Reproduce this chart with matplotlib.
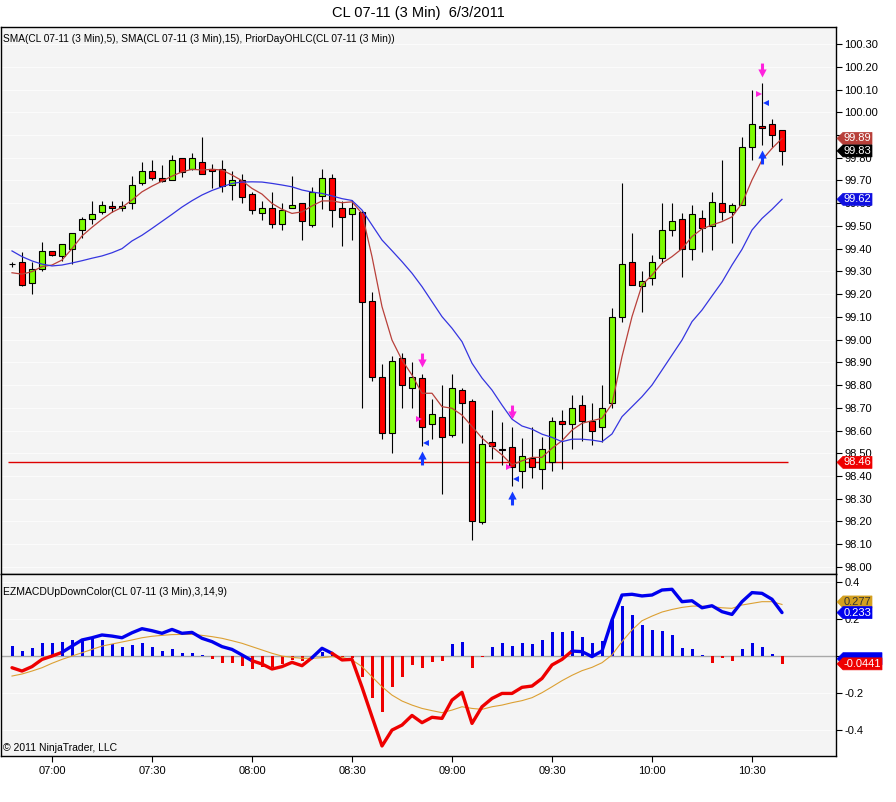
import numpy as np
import pandas as pd
import matplotlib
matplotlib.use("Agg")
import matplotlib.pyplot as plt
from matplotlib.path import Path
from matplotlib.patches import Polygon
from matplotlib.transforms import Affine2D, ScaledTranslation, blended_transform_factory

plt.rcParams['font.family'] = ['Liberation Sans', 'DejaVu Sans']

# =========================
# data (3 min bars, CL 07-11, 6/3/2011)
# =========================
start_time = "2011-06-03 06:48"

bar_open = [99.332, 99.34, 99.248, 99.31, 99.388, 99.369, 99.397, 99.48, 99.529, 99.56,
            99.589, 99.577, 99.599, 99.687, 99.74, 99.709, 99.70, 99.797, 99.75, 99.78,
            99.752, 99.749, 99.679, 99.70, 99.639, 99.558, 99.579, 99.507, 99.577, 99.60,
            99.505, 99.63, 99.709, 99.577, 99.551, 99.56, 99.168, 98.837, 98.588, 98.918,
            98.788, 98.83, 98.628, 98.66, 98.579, 98.78, 98.73, 98.199, 98.55, 98.52,
            98.529, 98.422, 98.478, 98.43, 98.462, 98.642, 98.628, 98.712, 98.642, 98.617,
            98.72, 99.098, 99.34, 99.237, 99.27, 99.358, 99.481, 99.529, 99.397, 99.536,
            99.50, 99.60, 99.56, 99.592, 99.848, 99.938, 99.947, 99.92]
bar_high = [99.343, 99.387, 99.343, 99.428, 99.39, 99.419, 99.467, 99.538, 99.61, 99.61,
            99.61, 99.61, 99.72, 99.782, 99.79, 99.77, 99.81, 99.797, 99.82, 99.89,
            99.774, 99.79, 99.741, 99.73, 99.65, 99.61, 99.65, 99.60, 99.72, 99.60,
            99.672, 99.75, 99.73, 99.61, 99.614, 99.565, 99.208, 98.891, 98.929, 98.94,
            98.90, 98.849, 98.737, 98.80, 98.847, 98.788, 98.737, 98.58, 98.69, 98.639,
            98.617, 98.569, 98.617, 98.573, 98.661, 98.69, 98.756, 98.756, 98.72, 98.80,
            99.138, 99.687, 99.467, 99.30, 99.372, 99.60, 99.60, 99.555, 99.592, 99.57,
            99.648, 99.79, 99.60, 99.89, 100.10, 100.13, 99.969, 99.92]
bar_low = [99.32, 99.235, 99.199, 99.30, 99.368, 99.346, 99.331, 99.448, 99.507, 99.551,
           99.56, 99.566, 99.576, 99.68, 99.70, 99.695, 99.70, 99.716, 99.745, 99.727,
           99.668, 99.648, 99.615, 99.60, 99.551, 99.526, 99.489, 99.48, 99.577, 99.438,
           99.497, 99.576, 99.497, 99.41, 99.438, 98.698, 98.819, 98.561, 98.50, 98.698,
           98.698, 98.532, 98.561, 98.32, 98.57, 98.547, 98.119, 98.19, 98.475, 98.449,
           98.356, 98.346, 98.39, 98.342, 98.422, 98.43, 98.519, 98.555, 98.536, 98.551,
           98.70, 99.079, 99.24, 99.123, 99.24, 99.338, 99.457, 99.277, 99.35, 99.387,
           99.394, 99.526, 99.426, 99.59, 99.79, 99.856, 99.848, 99.77]
bar_close = [99.332, 99.239, 99.309, 99.388, 99.371, 99.419, 99.467, 99.53, 99.551, 99.59,
             99.577, 99.589, 99.68, 99.74, 99.709, 99.699, 99.788, 99.738, 99.797, 99.727,
             99.74, 99.677, 99.70, 99.628, 99.569, 99.579, 99.507, 99.57, 99.59, 99.52,
             99.649, 99.709, 99.57, 99.538, 99.577, 99.167, 98.837, 98.588, 98.907, 98.799,
             98.837, 98.617, 98.672, 98.57, 98.788, 98.72, 98.202, 98.54, 98.531, 98.515,
             98.438, 98.488, 98.438, 98.518, 98.642, 98.628, 98.698, 98.64, 98.60, 98.698,
             99.098, 99.331, 99.24, 99.259, 99.34, 99.481, 99.522, 99.397, 99.551, 99.489,
             99.607, 99.56, 99.592, 99.848, 99.947, 99.929, 99.90, 99.83]

sma5 = [99.294, 99.288, 99.299, 99.321, 99.328, 99.35, 99.40, 99.456, 99.494, 99.529,
        99.56, 99.582, 99.614, 99.65, 99.675, 99.697, 99.719, 99.738, 99.749, 99.746,
        99.749, 99.746, 99.724, 99.699, 99.665, 99.64, 99.599, 99.573, 99.555, 99.562,
        99.588, 99.61, 99.61, 99.602, 99.606, 99.555, 99.365, 99.145, 98.998, 98.91,
        98.844, 98.764, 98.764, 98.705, 98.698, 98.668, 98.618, 98.567, 98.529, 98.493,
        98.449, 98.467, 98.482, 98.482, 98.522, 98.555, 98.602, 98.632, 98.643, 98.654,
        98.717, 98.925, 99.101, 99.24, 99.284, 99.336, 99.365, 99.40, 99.453, 99.487,
        99.504, 99.519, 99.54, 99.599, 99.702, 99.79, 99.841, 99.885]
sma15 = [99.39, 99.365, 99.346, 99.332, 99.324, 99.328, 99.337, 99.347, 99.358, 99.368,
         99.382, 99.40, 99.434, 99.459, 99.489, 99.52, 99.551, 99.583, 99.611, 99.636,
         99.656, 99.672, 99.687, 99.693, 99.694, 99.693, 99.687, 99.68, 99.672, 99.658,
         99.649, 99.643, 99.632, 99.62, 99.612, 99.57, 99.504, 99.438, 99.391, 99.343,
         99.292, 99.233, 99.167, 99.101, 99.05, 98.991, 98.896, 98.831, 98.778, 98.712,
         98.65, 98.62, 98.606, 98.584, 98.57, 98.551, 98.562, 98.562, 98.558, 98.551,
         98.585, 98.661, 98.705, 98.749, 98.80, 98.866, 98.932, 98.998, 99.079, 99.13,
         99.192, 99.253, 99.328, 99.397, 99.482, 99.533, 99.573, 99.617]
prior_day_low = 98.46

# signal markers (bar index, price)
sig_bars = [41, 50, 75]
sig_down_arrow = [98.91, 98.682, 100.187]
sig_up_arrow = [98.478, 98.302, 99.804]
sig_tri_right = [98.65, 98.438, 100.079]
sig_tri_left = [98.547, 98.387, 100.039]

# EZ MACD (3,14,9)
macd = [-0.065, -0.083, -0.059, -0.020, -0.002, 0.018, 0.052, 0.085, 0.097, 0.112,
        0.106, 0.097, 0.124, 0.146, 0.135, 0.121, 0.142, 0.121, 0.126, 0.094,
        0.076, 0.049, 0.034, 0.004, -0.027, -0.045, -0.072, -0.059, -0.036, -0.054,
        -0.011, 0.040, 0.013, -0.023, -0.020, -0.17, -0.33, -0.488, -0.402, -0.375,
        -0.323, -0.362, -0.333, -0.339, -0.24, -0.198, -0.366, -0.276, -0.231, -0.204,
        -0.204, -0.171, -0.164, -0.123, -0.050, -0.020, 0.025, 0.022, -0.005, 0.025,
        0.193, 0.328, 0.332, 0.323, 0.328, 0.355, 0.359, 0.292, 0.297, 0.259,
        0.27, 0.238, 0.223, 0.292, 0.341, 0.337, 0.305, 0.233]
macd_up = [0] * 6 + [1] * 19 + [0] * 6 + [1] * 2 + [0] * 24 + [1] * 21
signal = [-0.11, -0.099, -0.083, -0.065, -0.041, -0.020, -0.002, 0.016, 0.034, 0.052,
          0.063, 0.074, 0.085, 0.097, 0.105, 0.11, 0.114, 0.115, 0.115, 0.11,
          0.103, 0.094, 0.081, 0.067, 0.049, 0.031, 0.013, -0.002, -0.009, -0.014,
          -0.014, -0.011, -0.005, -0.009, -0.023, -0.059, -0.114, -0.168, -0.213, -0.245,
          -0.267, -0.285, -0.297, -0.308, -0.294, -0.276, -0.285, -0.29, -0.276, -0.267,
          -0.254, -0.243, -0.227, -0.2, -0.168, -0.135, -0.106, -0.081, -0.063, -0.038,
          0.004, 0.076, 0.139, 0.189, 0.214, 0.236, 0.25, 0.261, 0.268, 0.268,
          0.265, 0.259, 0.256, 0.274, 0.283, 0.292, 0.292, 0.277]
hist = [0.052, 0.025, 0.040, 0.070, 0.070, 0.076, 0.085, 0.090, 0.090, 0.085,
        0.063, 0.049, 0.058, 0.070, 0.049, 0.027, 0.036, 0.016, 0.016, 0.006,
        -0.02, -0.038, -0.038, -0.054, -0.072, -0.063, -0.059, -0.045, -0.023, -0.027,
        -0.012, 0.02, 0.01, -0.009, -0.014, -0.117, -0.231, -0.303, -0.168, -0.114,
        -0.05, -0.068, -0.032, -0.027, 0.063, 0.076, -0.065, -0.008, 0.045, 0.07,
        0.052, 0.07, 0.063, 0.085, 0.13, 0.13, 0.133, 0.103, 0.07, 0.079,
        0.193, 0.268, 0.22, 0.166, 0.139, 0.133, 0.112, 0.04, 0.034, 0.004,
        -0.041, -0.014, -0.027, 0.036, 0.07, 0.049, 0.009, -0.0441]

# =========================
# layout
# =========================
W, H = 896, 802
fig = plt.figure(figsize=(W / 100, H / 100), dpi=100)
fig.patch.set_facecolor("white")

ax = fig.add_axes([1 / W, 1 - 574 / H, 835 / W, 547 / H])
ax2 = fig.add_axes([1 / W, 1 - 756 / H, 835 / W, 182 / H])

bg = "#f4f4f4"
n = len(bar_close)
x = np.arange(n)
times = pd.date_range(start_time, periods=n, freq="3min")

UP_C = "#7cfc00"
DN_C = "#ff0000"

# --- candles ---
o = np.array(bar_open)
c = np.array(bar_close)
ax.vlines(x, bar_low, bar_high, color="black", lw=0.8, zorder=2)
body_lo = np.minimum(o, c)
body_h = np.maximum(np.abs(c - o), 0.002)
cols = [UP_C if cc >= oo else DN_C for oo, cc in zip(o, c)]
ax.bar(x, body_h, bottom=body_lo, width=0.6, color=cols, edgecolor="black",
       linewidth=0.8, zorder=3)

# --- SMA lines + prior day ---
ax.plot(x, sma5, color="#b8403a", lw=0.9, zorder=4)
ax.plot(x, sma15, color="#3535e0", lw=0.9, zorder=4)
ax.hlines(prior_day_low, -0.4, n - 0.4, color="#dd0000", lw=1, zorder=1)


# --- signal markers ---
def poly_marker(verts):
    codes = [Path.MOVETO] + [Path.LINETO] * (len(verts) - 1) + [Path.CLOSEPOLY]
    return Path(verts + [verts[0]], codes)


down_path = poly_marker([(-0.22, 1), (0.22, 1), (0.22, 0.15), (0.6, 0.15), (0, -1),
                         (-0.6, 0.15), (-0.22, 0.15)])
up_path = poly_marker([(-0.22, -1), (0.22, -1), (0.22, -0.15), (0.6, -0.15), (0, 1),
                       (-0.6, -0.15), (-0.22, -0.15)])
sb = np.array(sig_bars)
ax.plot(sb, sig_down_arrow, ls="none", marker=down_path, ms=10, color="#ff22dd",
        mew=0, zorder=6)
ax.plot(sb, sig_up_arrow, ls="none", marker=up_path, ms=10, color="#1238ff",
        mew=0, zorder=6)
ax.plot(sb - 0.3, sig_tri_right, ls="none", marker=">", ms=5, color="#ff22dd",
        mew=0, zorder=6)
ax.plot(sb + 0.35, sig_tri_left, ls="none", marker="<", ms=5, color="#1238ff",
        mew=0, zorder=6)

# --- MACD panel ---
hcols = ["#0000e6" if v > 0 else "#ee0000" for v in hist]
ax2.bar(x, hist, width=0.3, color=hcols, zorder=2)
ax2.axhline(0, color="#a8a8a8", lw=1, zorder=1)
ax2.plot(x, signal, color="#dca033", lw=0.8, zorder=3)

# thick macd line, colour per run
run_start = 0
for i in range(1, n + 1):
    if i == n or macd_up[i] != macd_up[run_start]:
        seg = slice(max(run_start - 1, 0), i)
        ax2.plot(x[seg], np.array(macd)[seg],
                 color="#0000ee" if macd_up[run_start] else "#ee0000",
                 lw=2.4, solid_joinstyle="round", solid_capstyle="round", zorder=4)
        run_start = i

# =========================
# axes styling
# =========================
for a in (ax, ax2):
    a.set_facecolor(bg)
    a.set_xlim(-1.1, 82.4)
    for s in a.spines.values():
        s.set_color("black")
        s.set_linewidth(1)
    a.yaxis.tick_right()
    a.tick_params(axis="y", direction="out", length=4, width=0.8, labelsize=8,
                  pad=2, colors="black")
    a.grid(axis="y", color="#fbfbfb", lw=0.8, zorder=0)
    a.set_axisbelow(True)

# labels hidden under the value tags in the original are left blank
price_ticks = np.round(np.arange(98.0, 100.31, 0.1), 2)
ax.set_ylim(97.969, 100.375)
ax.set_yticks(price_ticks)
ax.set_yticklabels(["" if v == 99.9 else f"{v:.2f}" for v in price_ticks])
ax.tick_params(axis="x", bottom=False, labelbottom=False)

ax2.set_ylim(-0.5422, 0.4416)
ax2.set_yticks([-0.4, -0.2, 0, 0.2, 0.4])
ax2.set_yticklabels(["-0.4", "-0.2", "", "0.2", "0.4"])
tick_idx = [i for i, t in enumerate(times) if t.minute % 30 == 0]
ax2.set_xticks(tick_idx)
ax2.set_xticklabels([times[i].strftime("%H:%M") for i in tick_idx])
ax2.tick_params(axis="x", direction="out", length=4, width=0.8, labelsize=8, pad=3)


# --- value tags on right axis ---
def tag(a, y, text, fc, tc="white", dy=0, chars=None):
    anchor = ScaledTranslation(1.0, y, blended_transform_factory(a.transAxes, a.transData))
    w = 5 * (chars or len(text)) + 10
    tr = Affine2D().translate(1, dy) + anchor
    a.add_patch(Polygon([(0, 0), (6, 6), (w, 6), (w, -6), (6, -6)], closed=True,
                        transform=tr, facecolor=fc, edgecolor=fc, lw=0.5,
                        clip_on=False, zorder=20))
    if text:
        a.text((6 + w) / 2, 0, text, transform=tr, ha="center", va="center",
               fontsize=8, color=tc, clip_on=False, zorder=21)


tag(ax, sma5[-1], f"{sma5[-1]:.2f}", "#b8403a")
tag(ax, bar_close[-1], f"{bar_close[-1]:.2f}", "black")
tag(ax, sma15[-1], f"{sma15[-1]:.2f}", "#1010e0")
tag(ax, prior_day_low, f"{prior_day_low:.2f}", "#ee0000")

tag(ax2, signal[-1], f"{signal[-1]:.3f}", "#d4a020", tc="#333333", dy=2.5)
tag(ax2, macd[-1], f"{macd[-1]:.3f}", "#0000ee")
tag(ax2, 0, "", "#0000ee", dy=-3, chars=7)
tag(ax2, hist[-1], f"{hist[-1]:.4f}", "#ee0000")

# --- texts ---
fig.text(418 / W, 1 - 13 / H, "CL 07-11 (3 Min)  6/3/2011", ha="center", va="center",
         fontsize=10.5)
fig.text(3 / W, 1 - 39 / H,
         "SMA(CL 07-11 (3 Min),5), SMA(CL 07-11 (3 Min),15), PriorDayOHLC(CL 07-11 (3 Min))",
         ha="left", va="center", fontsize=7.3)
fig.text(3 / W, 1 - 592 / H, "EZMACDUpDownColor(CL 07-11 (3 Min),3,14,9)",
         ha="left", va="center", fontsize=7.5)
fig.text(3 / W, 1 - 748 / H, "\u00a9 2011 NinjaTrader, LLC", ha="left", va="center",
         fontsize=7.5)

fig.savefig("out.png", dpi=100, facecolor="white")
